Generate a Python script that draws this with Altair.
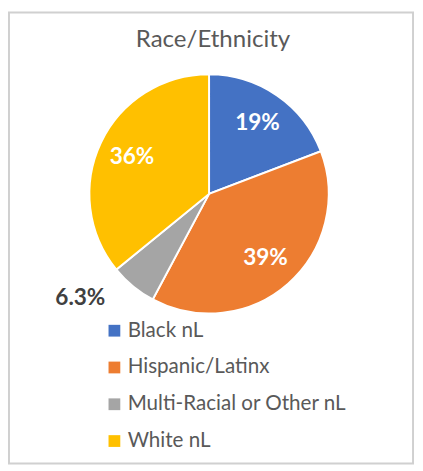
import altair as alt
import pandas as pd

categories = ["Black nL", "Hispanic/Latinx", "Multi-Racial or Other nL", "White nL"]
shares = [19.2, 38.6, 6.3, 35.9]
inner_labels = ["19%", "39%", "", "36%"]
outer_labels = ["", "", "6.3%", ""]
colors = ["#4472C4", "#ED7D31", "#A5A5A5", "#FFC000"]
title_text = "Race/Ethnicity"

df = pd.DataFrame({
    "category": categories,
    "share": shares,
    "inner": inner_labels,
    "outer": outer_labels,
    "idx": list(range(len(categories))),
})

CX, CY, R = 205, 185, 122
FONT = "Lato"

base = alt.Chart(df).encode(
    theta=alt.Theta("share:Q", stack=True),
    order=alt.Order("idx:Q"),
    x=alt.value(CX),
    y=alt.value(CY),
)

arcs = base.mark_arc(outerRadius=R, stroke="white", strokeWidth=2).encode(
    color=alt.Color(
        "category:N",
        scale=alt.Scale(domain=categories, range=colors),
        legend=alt.Legend(
            title=None, orient="none", legendX=98, legendY=314,
            symbolType="square", symbolSize=144, symbolStrokeWidth=0,
            labelFont=FONT, labelFontSize=21, labelColor="#595959",
            labelOffset=3, rowPadding=15.5, padding=0, labelLimit=400,
        ),
    )
)

inner = base.mark_text(radius=87, font=FONT, fontSize=23, fontWeight="bold",
                       fill="white").encode(text="inner:N")
outer = base.mark_text(radius=150, dx=-36, dy=-10, font=FONT, fontSize=23,
                       fontWeight="bold", fill="#404040").encode(text="outer:N")

title = alt.Chart(alt.Data(values=[{"t": title_text}])).mark_text(
    font=FONT, fontSize=24.5, fill="#595959", baseline="alphabetic"
).encode(x=alt.value(209), y=alt.value(35), text="t:N")

border = alt.Chart(alt.Data(values=[{"b": 1}])).mark_rect(
    fill="transparent", stroke="#D0D0D0", strokeWidth=2
).encode(x=alt.value(1), x2=alt.value(413), y=alt.value(0), y2=alt.value(460))

chart = alt.layer(border, arcs, inner, outer, title).properties(
    width=415, height=463, padding=0, autosize="none"
).configure_view(strokeOpacity=0)

chart.save("out.html", embed_options={"renderer": "svg", "actions": False})
